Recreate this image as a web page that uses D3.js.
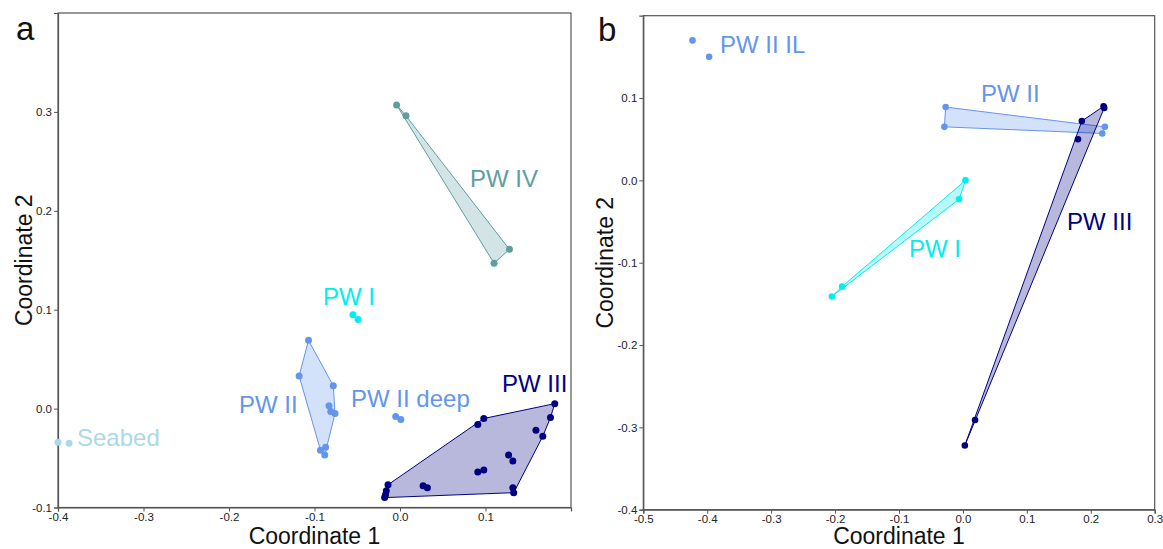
<!DOCTYPE html>
<html lang="en">
<head>
<meta charset="utf-8">
<title>PCoA panels</title>
<script src="https://d3js.org/d3.v7.min.js"></script>
<style>
  body { margin: 0; background: #fff; }
  svg { font-family: "Liberation Sans", Arial, sans-serif; }
  .tick text { fill: #222; font-size: 11.5px; }
</style>
</head>
<body>
<script>
// panel a points [coord1, coord2]
let aSeabed = [[-0.400, -0.034], [-0.387, -0.035]];
let aPW1 = [[-0.055, 0.095], [-0.049, 0.090]];
let aPW2 = [[-0.107, 0.069], [-0.118, 0.033], [-0.078, 0.023], [-0.083, 0.003],
            [-0.081, -0.003], [-0.076, -0.005], [-0.093, -0.042], [-0.087, -0.039], [-0.088, -0.047]];
let aPW2deep = [[-0.005, -0.008], [0.001, -0.011]];
let aPW3 = [[0.181, 0.005], [0.176, -0.009], [0.159, -0.022], [0.167, -0.028], [0.098, -0.010],
            [0.091, -0.016], [0.127, -0.047], [0.132, -0.053], [0.098, -0.062], [0.091, -0.064],
            [0.027, -0.078], [0.032, -0.080], [0.132, -0.080], [0.133, -0.085], [-0.014, -0.077],
            [-0.016, -0.083], [-0.017, -0.087], [-0.018, -0.090]];
let aPW4 = [[-0.004, 0.307], [0.007, 0.296], [0.128, 0.161], [0.110, 0.147]];

// panel b points
let bPW2IL = [[-0.423, 0.170], [-0.397, 0.150]];
let bPW2 = [[-0.027, 0.089], [-0.029, 0.065], [0.222, 0.065], [0.218, 0.057]];
let bPW3 = [[0.220, 0.090], [0.221, 0.088], [0.186, 0.072], [0.180, 0.050], [0.019, -0.291], [0.003, -0.322]];
let bPW1 = [[0.004, 0.000], [-0.006, -0.023], [-0.205, -0.141], [-0.189, -0.129]];

let aXTicks = [-0.4, -0.3, -0.2, -0.1, 0.0, 0.1];
let aYTicks = [-0.1, 0.0, 0.1, 0.2, 0.3];
let bXTicks = [-0.5, -0.4, -0.3, -0.2, -0.1, 0.0, 0.1, 0.2, 0.3];
let bYTicks = [-0.4, -0.3, -0.2, -0.1, 0.0, 0.1];

let col = {
  seabed: "#add8e6", pw1: "#00eeee", pw2: "#6495ed", pw3: "#000080", pw4: "#5f9ea0"
};

let w = 1163, h = 549;
let svg = d3.select("body").append("svg").attr("width", w).attr("height", h);

function panel(opt) {
  let x = d3.scaleLinear().domain(opt.xDom).range([opt.left, opt.right]);
  let y = d3.scaleLinear().domain(opt.yDom).range([opt.bottom, opt.top]);
  let g = svg.append("g");

  // frame
  g.append("rect")
    .attr("x", opt.left).attr("y", opt.top)
    .attr("width", opt.right - opt.left).attr("height", opt.bottom - opt.top)
    .attr("fill", "none").attr("stroke", "#555").attr("stroke-width", 1.2);

  let xAxis = g.append("g").attr("transform", `translate(0,${opt.bottom})`)
    .call(d3.axisBottom(x).tickValues(opt.xTicks).tickSize(4).tickPadding(1).tickFormat(d3.format(".1f")));
  let yAxis = g.append("g").attr("transform", `translate(${opt.left},0)`)
    .call(d3.axisLeft(y).tickValues(opt.yTicks).tickSize(4).tickPadding(2).tickFormat(d3.format(".1f")));
  [xAxis, yAxis].forEach(a => {
    a.select(".domain").attr("stroke", "#555").attr("stroke-width", 1.2);
    a.selectAll(".tick line").attr("stroke", "#555");
    a.selectAll(".tick text").text(d => d3.format(".1f")(d).replace("−", "-"));
  });

  // axis titles
  g.append("text")
    .attr("x", (opt.left + opt.right) / 2).attr("y", 544)
    .attr("text-anchor", "middle").attr("font-size", 23).attr("fill", "#111")
    .text("Coordinate 1");
  g.append("text")
    .attr("transform", `translate(${opt.yTitleX},${(opt.top + opt.bottom) / 2}) rotate(-90)`)
    .attr("text-anchor", "middle").attr("font-size", 23).attr("fill", "#111")
    .text("Coordinate 2");
  g.append("text")
    .attr("x", opt.tagX).attr("y", opt.tagY)
    .attr("font-size", 33).attr("fill", "#111").text(opt.tag);

  // hulls
  opt.groups.filter(s => s.hull).forEach(s => {
    let hull = d3.polygonHull(s.pts.map(p => [x(p[0]), y(p[1])]));
    g.append("path")
      .attr("d", "M" + hull.join("L") + "Z")
      .attr("fill", s.color).attr("fill-opacity", 0.28)
      .attr("stroke", s.color).attr("stroke-width", 1).attr("stroke-linejoin", "round");
  });

  // points
  opt.groups.forEach(s => {
    g.selectAll(null).data(s.pts).enter().append("circle")
      .attr("cx", d => x(d[0])).attr("cy", d => y(d[1]))
      .attr("r", opt.r).attr("fill", s.color);
  });

  // labels
  opt.groups.forEach(s => {
    g.append("text")
      .attr("x", s.lx).attr("y", s.ly)
      .attr("font-size", 24).attr("fill", s.color)
      .text(s.name);
  });
}

panel({
  tag: "a", tagX: 16, tagY: 40,
  left: 58, right: 571, top: 13, bottom: 507.5,
  xDom: [-0.4, 0.2], yDom: [-0.1, 0.4],
  xTicks: aXTicks, yTicks: aYTicks, yTitleX: 32, r: 3.5,
  groups: [
    { name: "Seabed", pts: aSeabed, color: col.seabed, hull: false, lx: 77, ly: 446 },
    { name: "PW I", pts: aPW1, color: col.pw1, hull: false, lx: 323, ly: 305 },
    { name: "PW II", pts: aPW2, color: col.pw2, hull: true, lx: 239, ly: 413 },
    { name: "PW II deep", pts: aPW2deep, color: col.pw2, hull: false, lx: 351, ly: 407 },
    { name: "PW III", pts: aPW3, color: col.pw3, hull: true, lx: 502, ly: 392 },
    { name: "PW IV", pts: aPW4, color: col.pw4, hull: true, lx: 470, ly: 187 }
  ]
});

panel({
  tag: "b", tagX: 598, tagY: 41,
  left: 643.3, right: 1154.7, top: 15.7, bottom: 509.7,
  xDom: [-0.5, 0.3], yDom: [-0.4, 0.2],
  xTicks: bXTicks, yTicks: bYTicks, yTitleX: 613, r: 3.3,
  groups: [
    { name: "PW II IL", pts: bPW2IL, color: col.pw2, hull: false, lx: 720, ly: 53 },
    { name: "PW II", pts: bPW2, color: col.pw2, hull: true, lx: 981, ly: 102 },
    { name: "PW III", pts: bPW3, color: col.pw3, hull: true, lx: 1067, ly: 230 },
    { name: "PW I", pts: bPW1, color: col.pw1, hull: true, lx: 909, ly: 257 }
  ]
});
</script>
</body>
</html>
